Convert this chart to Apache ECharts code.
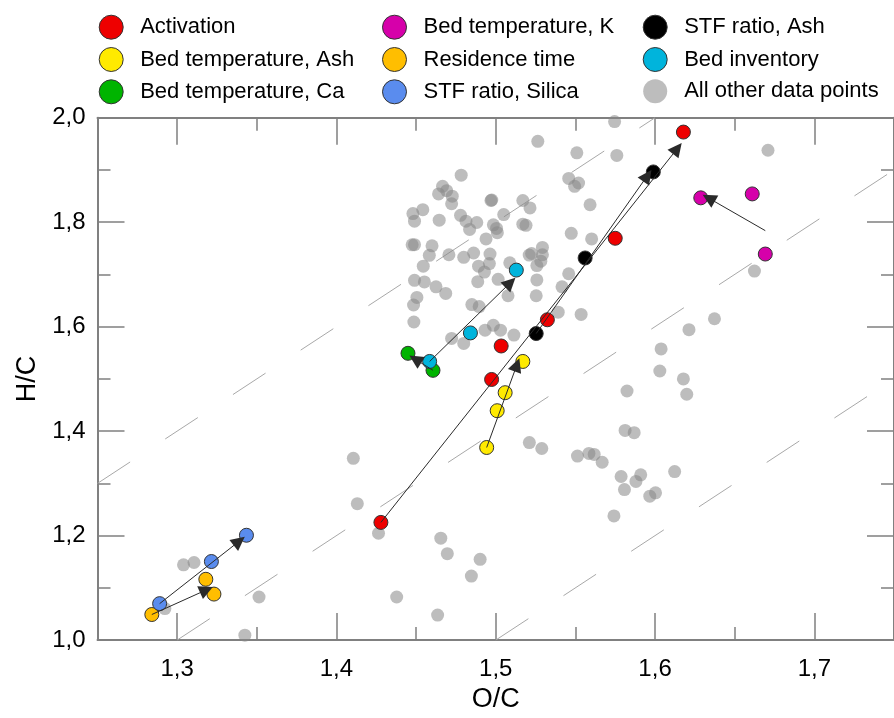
<!DOCTYPE html>
<html><head><meta charset="utf-8">
<script src="https://cdn.jsdelivr.net/npm/echarts@6/dist/echarts.min.js"></script>
<style>html,body{margin:0;padding:0;background:#fff}#c{width:894px;height:718px}</style>
</head><body><div id="c"></div>
<script>
// ---- tick labels ----
const xMajorTicks = [1.3, 1.4, 1.5, 1.6, 1.7];
const xMinorTicks = [1.35, 1.45, 1.55, 1.65];

// ---- series data [O/C, H/C] ----
const activation = [[1.4279,1.2253],[1.4974,1.4989],[1.5034,1.563],[1.5324,1.6132],[1.575,1.7692],[1.6178,1.9725]];
const bedTempAsh = [[1.4943,1.3687],[1.5009,1.4391],[1.5059,1.4736],[1.517,1.5334]];
const bedTempCa = [[1.4606,1.5164],[1.4449,1.549]];
const bedTempK = [[1.6692,1.739],[1.661,1.8541],[1.6287,1.8466]];
const residenceTime = [[1.2841,1.049],[1.318,1.1164],[1.3231,1.0881]];
const stfSilica = [[1.289,1.0698],[1.3215,1.1504],[1.3435,1.2007]];
const stfAsh = [[1.5254,1.5868],[1.5561,1.7315],[1.5989,1.8962]];
const bedInventory = [[1.4585,1.5334],[1.4841,1.588],[1.5129,1.7083]];
const otherPoints = [
[1.5746,1.9925],[1.5264,1.9547],[1.5509,1.9328],[1.5760,1.9277],[1.4783,1.890],[1.5458,1.8837],[1.5495,1.8687],[1.552,1.875],
[1.4666,1.8687],[1.4692,1.8604],[1.4641,1.8541],[1.4727,1.8498],[1.4723,1.8353],[1.497,1.8415],[1.4975,1.8425],[1.517,1.8415],[1.5215,1.8272],[1.5592,1.8334],
[1.448,1.8164],[1.449,1.802],[1.4542,1.824],[1.4645,1.8038],[1.4779,1.8132],[1.4813,1.802],[1.4881,1.7994],[1.4836,1.7862],[1.505,1.8145],
[1.4985,1.795],[1.5005,1.788],[1.501,1.78],[1.4939,1.768],[1.517,1.7962],[1.519,1.794],[1.5474,1.7787],[1.5602,1.768],
[1.4475,1.7566],[1.449,1.757],[1.46,1.7547],[1.4583,1.7366],[1.4706,1.7377],[1.4545,1.7158],[1.4799,1.7328],[1.4861,1.741],[1.4964,1.739],[1.496,1.7208],[1.4892,1.7158],[1.4929,1.7045],[1.5088,1.7221],
[1.521,1.737],[1.5225,1.740],[1.5293,1.7517],[1.5293,1.7377],[1.5258,1.717],[1.5283,1.7253],
[1.449,1.6887],[1.4552,1.6856],[1.4625,1.6762],[1.4686,1.6636],[1.4887,1.6862],[1.5015,1.6906],[1.5258,1.6894],[1.5458,1.7013],[1.5416,1.6762],[1.5077,1.6592],[1.5254,1.6592],
[1.4505,1.656],[1.4484,1.6415],[1.485,1.6423],[1.4896,1.6385],[1.4486,1.6089],[1.5392,1.6277],[1.5536,1.6234],
[1.4723,1.5774],[1.4799,1.5679],[1.4933,1.5932],[1.4985,1.6026],[1.503,1.5932],[1.5114,1.5838],
[1.5824,1.4768],[1.5812,1.4013],[1.5869,1.397],[1.5211,1.3781],[1.5289,1.3668],[1.5513,1.3523],[1.5585,1.3574],[1.5618,1.3555],[1.5668,1.3404],[1.5787,1.3132],[1.591,1.3164],[1.588,1.3038],[1.5808,1.2881],[1.5967,1.2755],[1.5742,1.2377],
[1.4106,1.348],[1.4131,1.2611],[1.4264,1.2045],[1.4655,1.1951],[1.4696,1.1655],[1.4902,1.1547],[1.4847,1.1226],[1.4378,1.0825],[1.4635,1.0479],
[1.603,1.5151],[1.6178,1.5],[1.6199,1.4706],[1.6123,1.3226],[1.6003,1.2819],
[1.6709,1.9377],[1.6624,1.7064],[1.6373,1.6151],[1.6213,1.5943],[1.6038,1.5574],
[1.304,1.1441],[1.3106,1.1485],[1.2923,1.0604],[1.3514,1.0825],[1.3425,1.0094]
];

// ---- arrows [start, end] ----
const arrows = [
  [[1.4279,1.2253],[1.614,1.941]],
  [[1.5254,1.5868],[1.5952,1.889]],
  [[1.4943,1.3687],[1.5133,1.527]],
  [[1.4585,1.5334],[1.5092,1.6843]],
  [[1.4606,1.5164],[1.4495,1.5377]],
  [[1.6692,1.7838],[1.6337,1.846]],
  [[1.289,1.0698],[1.339,1.1894]],
  [[1.2841,1.049],[1.3184,1.0962]]
];

// ---- dashed reference lines ----
const refLines = [
  [[1.25,1.3],[1.6,2.0]],
  [[1.3,1.0],[1.75,1.9]],
  [[1.5,1.0],[1.75,1.5]]
];

const FF = "'Liberation Sans', Arial, Helvetica, sans-serif";
const AX = '#808080';
const fmt = v => Number(v).toFixed(1).replace('.', ',');

const colored = [
  ['Activation', activation, '#ee0000'],
  ['Bed temperature, Ash', bedTempAsh, '#ffea00'],
  ['Bed temperature, Ca', bedTempCa, '#00b400'],
  ['Bed temperature, K', bedTempK, '#d600aa'],
  ['Residence time', residenceTime, '#ffbe00'],
  ['STF ratio, Silica', stfSilica, '#5a8cee'],
  ['STF ratio, Ash', stfAsh, '#000000'],
  ['Bed inventory', bedInventory, '#00b4dc']
];

const series = [];
refLines.forEach(l => series.push({
  type: 'line', data: l, symbol: 'none', silent: true, z: 1, animation: false,
  lineStyle: {color: '#a8a8a8', width: 1, type: [39, 42]}
}));
series.push({
  name: 'All other data points', type: 'scatter', data: otherPoints, symbolSize: 13, z: 2,
  itemStyle: {color: 'rgba(135,135,135,0.55)', opacity: 1}
});
colored.forEach(c => series.push({
  name: c[0], type: 'scatter', data: c[1], symbolSize: 14, z: 3,
  itemStyle: {color: c[2], borderColor: '#333', borderWidth: 1, opacity: 1}
}));
series.push({
  type: 'lines', coordinateSystem: 'cartesian2d', z: 4, silent: true,
  symbol: ['none', 'triangle'], symbolSize: 14,
  lineStyle: {color: '#2a2a2a', width: 1, opacity: 1, curveness: 0},
  data: arrows.map(a => ({coords: a}))
});

function xAx(pos, major, showLabel) {
  const o = {
    type: 'value', position: pos, min: 1.25, max: 1.75,
    axisLine: {show: major, onZero: false, lineStyle: {color: AX, width: 2}},
    axisTick: {show: true, inside: true, length: major ? 27 : 13,
      customValues: major ? xMajorTicks : xMinorTicks, lineStyle: {color: AX, width: 1.5}},
    axisLabel: {show: showLabel, customValues: xMajorTicks, formatter: fmt, margin: 17,
      fontSize: 24, color: '#000', fontFamily: FF},
    splitLine: {show: false}
  };
  if (showLabel) {
    o.name = 'O/C'; o.nameLocation = 'middle'; o.nameGap = 45;
    o.nameTextStyle = {fontSize: 27, color: '#000', fontFamily: FF};
  }
  return o;
}
function yAx(pos, showLabel) {
  const o = {
    type: 'value', position: pos, min: 1, max: 2, interval: 0.2,
    axisLine: {show: true, onZero: false, lineStyle: {color: AX, width: 2}},
    axisTick: {show: true, inside: true, length: 27, lineStyle: {color: AX, width: 1.5}},
    minorTick: {show: true, splitNumber: 2, length: 13, lineStyle: {color: AX, width: 1.5}},
    axisLabel: {show: showLabel, formatter: fmt, margin: 12, fontSize: 24, color: '#000', fontFamily: FF},
    splitLine: {show: false}, minorSplitLine: {show: false}
  };
  if (showLabel) {
    o.name = 'H/C'; o.nameLocation = 'middle'; o.nameGap = 52;
    o.nameTextStyle = {fontSize: 27, color: '#000', fontFamily: FF};
  }
  return o;
}

function leg(names, left) {
  return {
    data: names, orient: 'vertical', left: left, top: 14.7, padding: 0,
    itemWidth: 48, itemHeight: 24, itemGap: 7.3, icon: 'circle',
    itemStyle: {borderWidth: 1},
    textStyle: {fontSize: 22, color: '#000', fontFamily: FF}
  };
}

const chart = echarts.init(document.getElementById('c'), null, {renderer: 'canvas'});
chart.setOption({
  animation: false,
  backgroundColor: '#fff',
  grid: {left: 97.5, top: 117.7, width: 810, height: 530},
  legend: [
    leg(['Activation', 'Bed temperature, Ash', 'Bed temperature, Ca'], 98.7),
    leg(['Bed temperature, K', 'Residence time', 'STF ratio, Silica'], 382),
    leg(['STF ratio, Ash', 'Bed inventory', 'All other data points'], 642.7)
  ],
  xAxis: [xAx('bottom', true, true), xAx('bottom', false, false), xAx('top', true, false), xAx('top', false, false)],
  yAxis: [yAx('left', true), yAx('right', false)],
  series: series
});
</script>
</body></html>
